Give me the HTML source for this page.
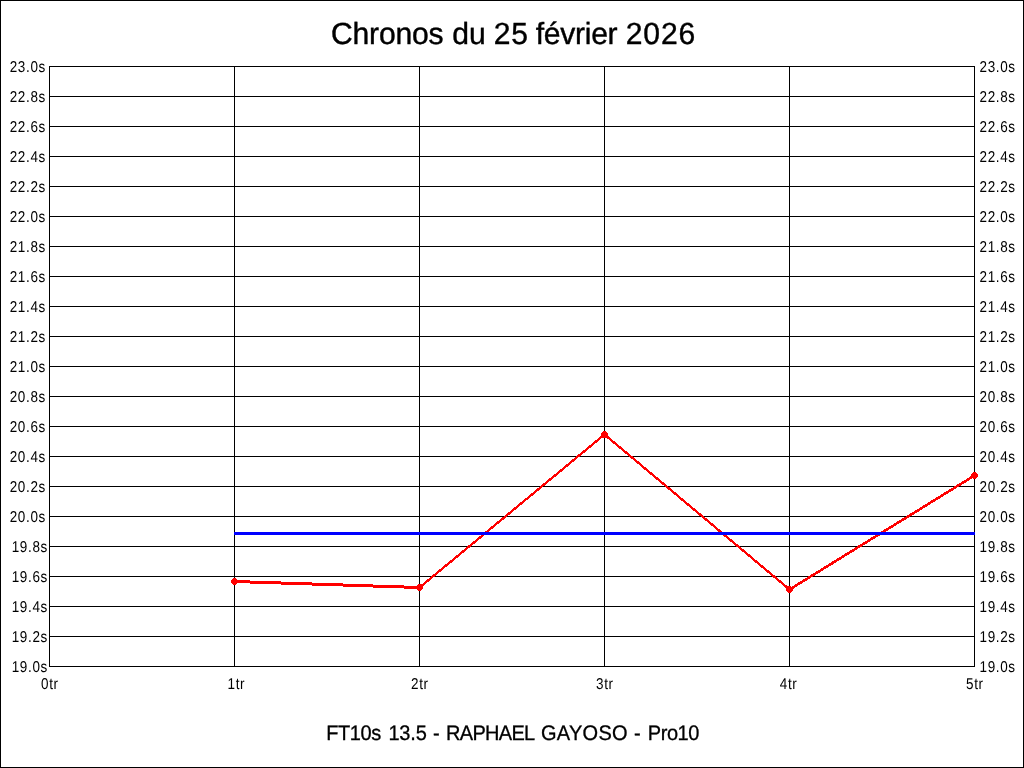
<!DOCTYPE html>
<html lang="fr"><head><meta charset="utf-8"><title>Chronos du 25 février 2026</title>
<style>
html,body{margin:0;padding:0;background:#fff;}
body{width:1024px;height:768px;overflow:hidden;}
svg{display:block;font-family:"Liberation Sans",sans-serif;}
text{fill:#000;text-rendering:geometricPrecision;}
.ax{font-size:14.67px;letter-spacing:0.7px;}
</style></head><body>
<svg width="1024" height="768" viewBox="0 0 1024 768">
<rect x="0" y="0" width="1024" height="768" fill="#fff"/>
<g shape-rendering="crispEdges">
<rect x="0.5" y="0.5" width="1023" height="767" fill="none" stroke="#000" stroke-width="1"/>
<rect x="49" y="66" width="926" height="1" fill="#000"/>
<rect x="49" y="96" width="926" height="1" fill="#000"/>
<rect x="49" y="126" width="926" height="1" fill="#000"/>
<rect x="49" y="156" width="926" height="1" fill="#000"/>
<rect x="49" y="186" width="926" height="1" fill="#000"/>
<rect x="49" y="216" width="926" height="1" fill="#000"/>
<rect x="49" y="246" width="926" height="1" fill="#000"/>
<rect x="49" y="276" width="926" height="1" fill="#000"/>
<rect x="49" y="306" width="926" height="1" fill="#000"/>
<rect x="49" y="336" width="926" height="1" fill="#000"/>
<rect x="49" y="366" width="926" height="1" fill="#000"/>
<rect x="49" y="396" width="926" height="1" fill="#000"/>
<rect x="49" y="426" width="926" height="1" fill="#000"/>
<rect x="49" y="456" width="926" height="1" fill="#000"/>
<rect x="49" y="486" width="926" height="1" fill="#000"/>
<rect x="49" y="516" width="926" height="1" fill="#000"/>
<rect x="49" y="546" width="926" height="1" fill="#000"/>
<rect x="49" y="576" width="926" height="1" fill="#000"/>
<rect x="49" y="606" width="926" height="1" fill="#000"/>
<rect x="49" y="636" width="926" height="1" fill="#000"/>
<rect x="49" y="666" width="926" height="1" fill="#000"/>
<rect x="49" y="66" width="1" height="601" fill="#000"/>
<rect x="234" y="66" width="1" height="601" fill="#000"/>
<rect x="419" y="66" width="1" height="601" fill="#000"/>
<rect x="604" y="66" width="1" height="601" fill="#000"/>
<rect x="789" y="66" width="1" height="601" fill="#000"/>
<rect x="974" y="66" width="1" height="601" fill="#000"/>
</g>
<g shape-rendering="crispEdges">
<polygon points="234.5,580 419.5,586 419.5,589 234.5,583" fill="#ff0000"/>
<polygon points="419.5,586 604.5,433 604.5,436 419.5,589" fill="#ff0000"/>
<polygon points="604.5,433 789.5,588 789.5,591 604.5,436" fill="#ff0000"/>
<polygon points="789.5,588 974.5,474 974.5,477 789.5,591" fill="#ff0000"/>
<path d="M233 578h3v1h1v1h1v3h-1v1h-1v1h-3v-1h-1v-1h-1v-3h1v-1h1z" fill="#ff0000"/>
<path d="M418 584h3v1h1v1h1v3h-1v1h-1v1h-3v-1h-1v-1h-1v-3h1v-1h1z" fill="#ff0000"/>
<path d="M603 431h3v1h1v1h1v3h-1v1h-1v1h-3v-1h-1v-1h-1v-3h1v-1h1z" fill="#ff0000"/>
<path d="M788 586h3v1h1v1h1v3h-1v1h-1v1h-3v-1h-1v-1h-1v-3h1v-1h1z" fill="#ff0000"/>
<path d="M973 472h3v1h1v1h1v3h-1v1h-1v1h-3v-1h-1v-1h-1v-3h1v-1h1z" fill="#ff0000"/>
<rect x="234" y="532" width="741" height="3" fill="#0000ff"/>
</g>
<text id="title" transform="translate(331 43.85) scale(1.004 1.02)" font-size="30" stroke="#000" stroke-width="0.4" xml:space="preserve"><tspan x="0.00" letter-spacing="-0.2">Chronos </tspan><tspan x="120.73">du </tspan><tspan x="162.14" letter-spacing="0.8">25 </tspan><tspan x="203.94" letter-spacing="-0.3">février </tspan><tspan x="293.53" letter-spacing="0.85">2026</tspan></text>
<text id="sub" transform="translate(326.2 740) scale(1.0 1.05)" font-size="20" stroke="#000" stroke-width="0.3" xml:space="preserve"><tspan x="0.10" letter-spacing="-0.45">FT10s </tspan><tspan x="62.24" letter-spacing="-0.2">13.5 </tspan><tspan x="106.72" letter-spacing="0.6">- </tspan><tspan x="119.93" letter-spacing="-0.72">RAPHAEL </tspan><tspan x="214.72" letter-spacing="0.3">GAYOSO </tspan><tspan x="307.88" letter-spacing="0.6">- </tspan><tspan x="321.59" letter-spacing="-0.45">Pro10</tspan></text>
<text class="ax" transform="translate(9.7 72) scale(0.92 1.07)">23.0s</text><text class="ax" transform="translate(979.5 72) scale(0.92 1.07)">23.0s</text>
<text class="ax" transform="translate(9.7 102) scale(0.92 1.07)">22.8s</text><text class="ax" transform="translate(979.5 102) scale(0.92 1.07)">22.8s</text>
<text class="ax" transform="translate(9.7 132) scale(0.92 1.07)">22.6s</text><text class="ax" transform="translate(979.5 132) scale(0.92 1.07)">22.6s</text>
<text class="ax" transform="translate(9.7 162) scale(0.92 1.07)">22.4s</text><text class="ax" transform="translate(979.5 162) scale(0.92 1.07)">22.4s</text>
<text class="ax" transform="translate(9.7 192) scale(0.92 1.07)">22.2s</text><text class="ax" transform="translate(979.5 192) scale(0.92 1.07)">22.2s</text>
<text class="ax" transform="translate(9.7 222) scale(0.92 1.07)">22.0s</text><text class="ax" transform="translate(979.5 222) scale(0.92 1.07)">22.0s</text>
<text class="ax" transform="translate(9.7 252) scale(0.92 1.07)">21.8s</text><text class="ax" transform="translate(979.5 252) scale(0.92 1.07)">21.8s</text>
<text class="ax" transform="translate(9.7 282) scale(0.92 1.07)">21.6s</text><text class="ax" transform="translate(979.5 282) scale(0.92 1.07)">21.6s</text>
<text class="ax" transform="translate(9.7 312) scale(0.92 1.07)">21.4s</text><text class="ax" transform="translate(979.5 312) scale(0.92 1.07)">21.4s</text>
<text class="ax" transform="translate(9.7 342) scale(0.92 1.07)">21.2s</text><text class="ax" transform="translate(979.5 342) scale(0.92 1.07)">21.2s</text>
<text class="ax" transform="translate(9.7 372) scale(0.92 1.07)">21.0s</text><text class="ax" transform="translate(979.5 372) scale(0.92 1.07)">21.0s</text>
<text class="ax" transform="translate(9.7 402) scale(0.92 1.07)">20.8s</text><text class="ax" transform="translate(979.5 402) scale(0.92 1.07)">20.8s</text>
<text class="ax" transform="translate(9.7 432) scale(0.92 1.07)">20.6s</text><text class="ax" transform="translate(979.5 432) scale(0.92 1.07)">20.6s</text>
<text class="ax" transform="translate(9.7 462) scale(0.92 1.07)">20.4s</text><text class="ax" transform="translate(979.5 462) scale(0.92 1.07)">20.4s</text>
<text class="ax" transform="translate(9.7 492) scale(0.92 1.07)">20.2s</text><text class="ax" transform="translate(979.5 492) scale(0.92 1.07)">20.2s</text>
<text class="ax" transform="translate(9.7 522) scale(0.92 1.07)">20.0s</text><text class="ax" transform="translate(979.5 522) scale(0.92 1.07)">20.0s</text>
<text class="ax" transform="translate(11.7 552) scale(0.92 1.07)">19.8s</text><text class="ax" transform="translate(979.5 552) scale(0.92 1.07)">19.8s</text>
<text class="ax" transform="translate(11.7 582) scale(0.92 1.07)">19.6s</text><text class="ax" transform="translate(979.5 582) scale(0.92 1.07)">19.6s</text>
<text class="ax" transform="translate(11.7 612) scale(0.92 1.07)">19.4s</text><text class="ax" transform="translate(979.5 612) scale(0.92 1.07)">19.4s</text>
<text class="ax" transform="translate(11.7 642) scale(0.92 1.07)">19.2s</text><text class="ax" transform="translate(979.5 642) scale(0.92 1.07)">19.2s</text>
<text class="ax" transform="translate(11.7 672) scale(0.92 1.07)">19.0s</text><text class="ax" transform="translate(979.5 672) scale(0.92 1.07)">19.0s</text>
<text class="ax" transform="translate(41 689) scale(0.92 1.07)">0tr</text>
<text class="ax" transform="translate(227.5 689) scale(0.92 1.07)">1tr</text>
<text class="ax" transform="translate(411 689) scale(0.92 1.07)">2tr</text>
<text class="ax" transform="translate(596 689) scale(0.92 1.07)">3tr</text>
<text class="ax" transform="translate(779.8 689) scale(0.92 1.07)">4tr</text>
<text class="ax" transform="translate(966 689) scale(0.92 1.07)">5tr</text>
</svg>
</body></html>
